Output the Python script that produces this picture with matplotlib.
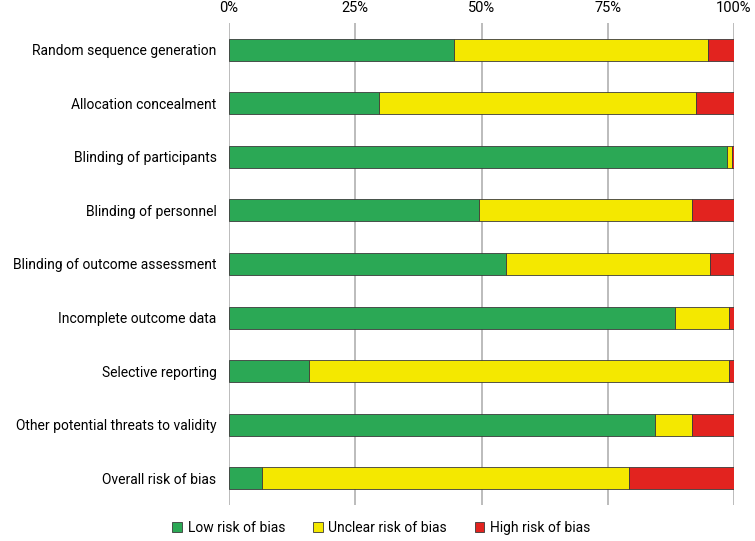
import matplotlib.pyplot as plt
import numpy as np
from matplotlib.patches import Patch

plt.rcParams['font.family'] = ['Roboto', 'DejaVu Sans']

domains = ["Random sequence generation", "Allocation concealment",
           "Blinding of participants", "Blinding of personnel",
           "Blinding of outcome assessment", "Incomplete outcome data",
           "Selective reporting", "Other potential threats to validity",
           "Overall risk of bias"]
low = [44.5, 29.7, 98.6, 49.5, 54.9, 88.4, 15.8, 84.4, 6.6]
unclear = [50.4, 62.8, 1.0, 42.2, 40.3, 10.6, 83.2, 7.3, 72.6]
high = [100 - l - u for l, u in zip(low, unclear)]

colors = ["#2BA855", "#F4E800", "#E2231F"]
labels = ["Low risk of bias", "Unclear risk of bias", "High risk of bias"]

fig = plt.figure(figsize=(7.55, 5.41), dpi=100)
ax = fig.add_axes([229 / 755, 1 - 505 / 541, 505 / 755, 482 / 541])

y = np.arange(len(domains))
left = np.zeros(len(domains))
for vals, c in zip([low, unclear, high], colors):
    ax.barh(y, vals, left=left, height=0.41, color=c, edgecolor="#3a3a3a",
            linewidth=0.6, zorder=3)
    left += np.array(vals)

fs = 10
ax.set_xlim(0, 100)
ax.set_ylim(len(domains) - 0.5, -0.5)
ax.set_yticks(y)
ax.set_yticklabels(domains, fontsize=fs)
ax.set_xticks([0, 25, 50, 75, 100])
ax.set_xticklabels(["0%", "25%", "50%", "75%", "100%"], fontsize=fs + 0.5)
ax.xaxis.tick_top()
ax.tick_params(axis="y", length=0, pad=9)
ax.tick_params(axis="x", length=0, pad=6)
ax.grid(axis="x", color="#b0b0b0", linewidth=1.2, zorder=0)
for s in ax.spines.values():
    s.set_visible(False)

handles = [Patch(facecolor=c, edgecolor="#3a3a3a", linewidth=0.6) for c in colors]
fig.legend(handles, labels, loc="center", bbox_to_anchor=(0.505, 1 - 528 / 541),
           ncol=3, frameon=False, fontsize=fs, handlelength=0.7,
           handleheight=0.7, handletextpad=0.4, columnspacing=2.0)

fig.savefig("out.png", dpi=100)
